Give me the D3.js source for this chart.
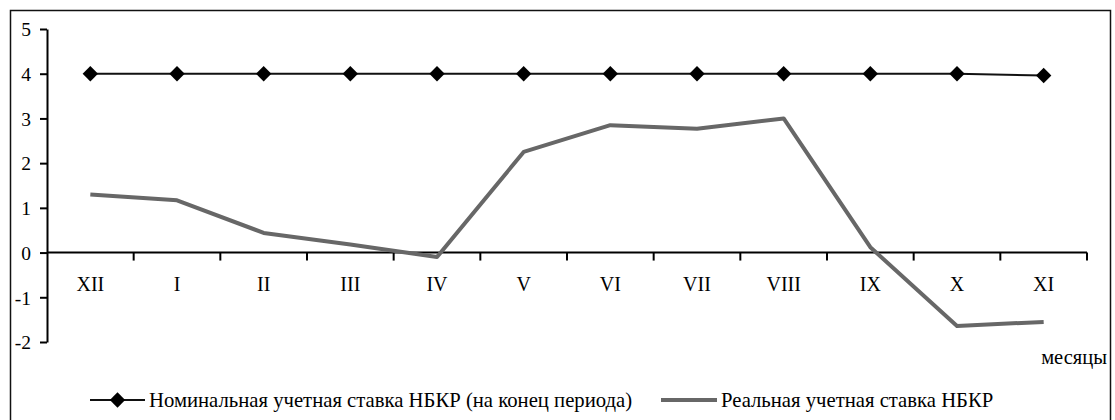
<!DOCTYPE html>
<html>
<head>
<meta charset="utf-8">
<script src="https://cdn.jsdelivr.net/npm/d3@7"></script>
<style>
  html, body { margin: 0; padding: 0; background: #fff; }
  svg { display: block; }
  svg text { font-family: "Liberation Serif", "DejaVu Serif", "Times New Roman", serif; }
</style>
</head>
<body>
<svg id="chart" width="1115" height="420"></svg>
<script>
// Months (December through November)
const months = ["XII", "I", "II", "III", "IV", "V", "VI", "VII", "VIII", "IX", "X", "XI"];
// Nominal discount rate of the NBKR (end of period), %
const nominalRate = [4, 4, 4, 4, 4, 4, 4, 4, 4, 4, 4, 3.96];
// Real discount rate of the NBKR, %
const realRate = [1.3, 1.17, 0.44, 0.18, -0.1, 2.25, 2.85, 2.77, 3.0, 0.12, -1.64, -1.55];
// Value-axis ticks
const yTicks = [-2, -1, 0, 1, 2, 3, 4, 5];

const nominalName = "Номинальная учетная ставка НБКР (на конец периода)";
const realName = "Реальная учетная ставка НБКР";
const xTitle = "месяцы";

const serif = "'Liberation Serif', 'DejaVu Serif', 'Times New Roman', serif";
const svg = d3.select("#chart");

// Outer frame
svg.append("rect")
  .attr("x", 10.5).attr("y", 10.5)
  .attr("width", 1100).attr("height", 420)
  .attr("fill", "none").attr("stroke", "#111").attr("stroke-width", 1.5);

const x = d3.scaleBand().domain(months).range([47, 1087]).paddingInner(0).paddingOuter(0);
const y = d3.scaleLinear().domain([-2, 5]).range([342, 29]);
const cx = d => x(d) + x.bandwidth() / 2;

// Value axis
const yAxis = svg.append("g")
  .attr("transform", "translate(47,0)")
  .call(d3.axisLeft(y).tickValues(yTicks).tickSize(7).tickSizeOuter(0).tickPadding(9).tickFormat(d => String(d)));
yAxis.attr("font-family", serif).attr("font-size", 19.5);
yAxis.select(".domain").attr("stroke", "#000").attr("stroke-width", 2);
yAxis.selectAll(".tick line").attr("stroke", "#000").attr("stroke-width", 2);
yAxis.selectAll(".tick text").attr("fill", "#000").attr("dy", "0.35em");

// Category axis at zero, ticks on band boundaries
const xAxisG = svg.append("g").attr("transform", `translate(0,${y(0)})`);
xAxisG.append("line")
  .attr("x1", x.range()[0]).attr("x2", x.range()[1])
  .attr("stroke", "#000").attr("stroke-width", 2);
const boundaries = months.map(m => x(m) + x.bandwidth());
xAxisG.selectAll("line.tk").data(boundaries).join("line")
  .attr("class", "tk")
  .attr("x1", d => d).attr("x2", d => d)
  .attr("y1", 0).attr("y2", 8)
  .attr("stroke", "#000").attr("stroke-width", 2);
svg.append("g").selectAll("text").data(months).join("text")
  .attr("x", d => cx(d)).attr("y", 291)
  .attr("text-anchor", "middle")
  .attr("font-family", serif)
  .attr("font-size", 20).attr("fill", "#000")
  .text(d => d);

// Real rate line
const line = d3.line().x((d, i) => cx(months[i])).y(d => y(d));
svg.append("path").datum(realRate)
  .attr("d", line)
  .attr("fill", "none").attr("stroke", "#676767")
  .attr("stroke-width", 4).attr("stroke-linejoin", "round");

// Nominal rate line with diamond markers
svg.append("path").datum(nominalRate)
  .attr("d", line)
  .attr("fill", "none").attr("stroke", "#111").attr("stroke-width", 2);
const diamond = d3.symbol().type(d3.symbolSquare).size(118);
svg.append("g").selectAll("path").data(nominalRate).join("path")
  .attr("d", diamond)
  .attr("transform", (d, i) => `translate(${cx(months[i])},${y(d)}) rotate(45)`)
  .attr("fill", "#000");

// Axis title
svg.append("text")
  .attr("x", 1107).attr("y", 364)
  .attr("text-anchor", "end")
  .attr("font-family", serif)
  .attr("font-size", 20.5).attr("fill", "#000")
  .text(xTitle);

// Legend
const legY = 400;
const leg = svg.append("g").attr("font-family", serif);
leg.append("line").attr("x1", 90).attr("x2", 145).attr("y1", legY).attr("y2", legY)
  .attr("stroke", "#111").attr("stroke-width", 2);
leg.append("path").attr("d", diamond)
  .attr("transform", `translate(117.5,${legY}) rotate(45)`).attr("fill", "#000");
leg.append("text").attr("x", 149).attr("y", legY + 7)
  .attr("font-size", 20.7).attr("fill", "#000").text(nominalName);
leg.append("line").attr("x1", 661).attr("x2", 717).attr("y1", legY).attr("y2", legY)
  .attr("stroke", "#676767").attr("stroke-width", 4);
leg.append("text").attr("x", 721).attr("y", legY + 7)
  .attr("font-size", 20.7).attr("fill", "#000").text(realName);
</script>
</body>
</html>
